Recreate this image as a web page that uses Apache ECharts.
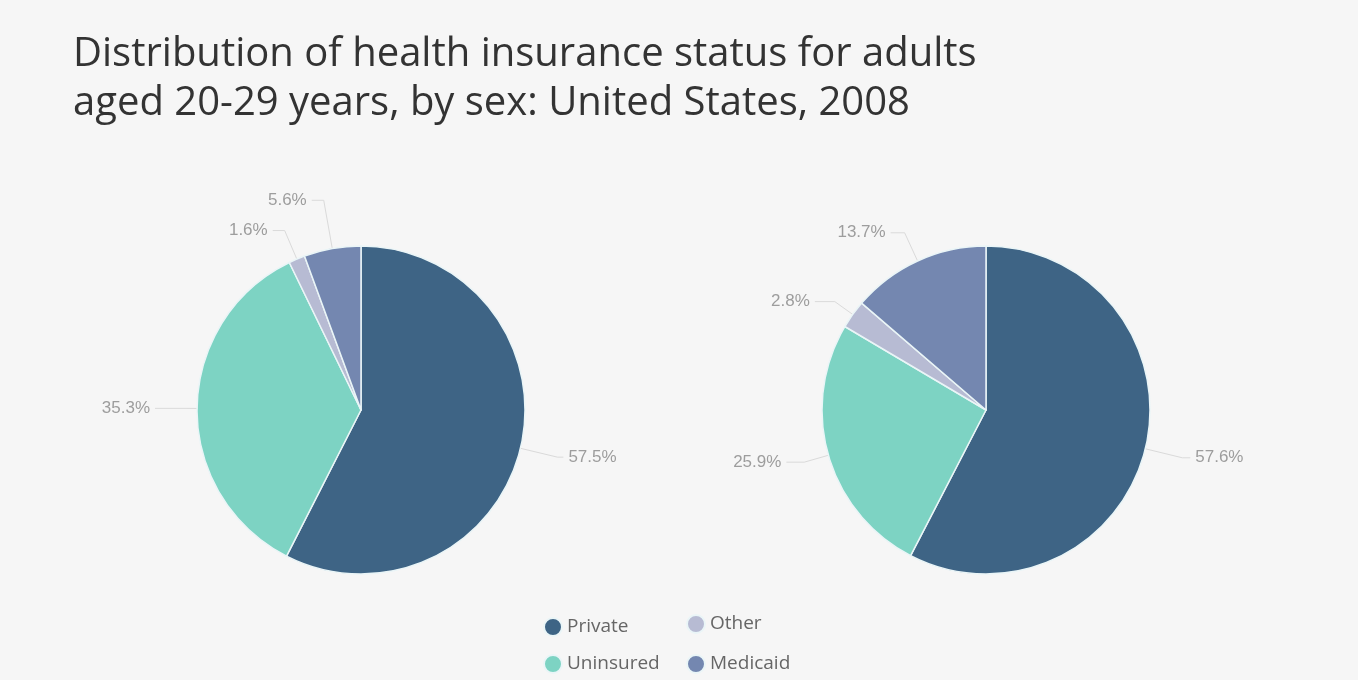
<!DOCTYPE html>
<html>
<head>
<meta charset="utf-8">
<script src="https://cdn.jsdelivr.net/npm/echarts@6/dist/echarts.min.js"></script>
<style>
  html, body { margin: 0; padding: 0; background: #f6f6f6; }
  #chart { width: 1358px; height: 680px; }
</style>
</head>
<body>
<div id="chart"></div>
<script>
// Health insurance status categories, in clockwise order from 12 o'clock
const categories = ['Private', 'Uninsured', 'Other', 'Medicaid'];
// Percent of adults aged 20-29 in each category
const leftValues = [57.5, 35.3, 1.6, 5.6];
const rightValues = [57.6, 25.9, 2.8, 13.7];
const colors = ['#3e6485', '#7dd3c3', '#b7bbd3', '#7487b0'];

const titleText = 'Distribution of health insurance status for adults\naged 20-29 years, by sex: United States, 2008';

// Leader line lengths [radial, horizontal] per slice so labels sit clear of each other
const leftLines = [[38, 6], [10, 32], [31, 12], [49, 12]];
const rightLines = [[38, 8], [25, 18], [22, 20], [31, 14]];

function pieSeries(name, values, lines, cx) {
  return {
    type: 'pie',
    name: name,
    center: [cx, 410],
    radius: 164,
    startAngle: 90,
    clockwise: true,
    avoidLabelOverlap: false,
    animation: false,
    itemStyle: { borderColor: '#eaf5f7', borderWidth: 1.5 },
    label: {
      show: true,
      formatter: p => p.value.toFixed(1) + '%',
      color: '#9d9d9d',
      fontSize: 17,
      fontFamily: 'Liberation Sans, Arial, sans-serif'
    },
    labelLine: {
      show: true,
      lineStyle: { color: '#dadada', width: 1 }
    },
    emphasis: { disabled: true },
    data: categories.map((c, i) => ({
      name: c,
      value: values[i],
      labelLine: { length: lines[i][0], length2: lines[i][1] }
    }))
  };
}

const legendText = { color: '#666', fontSize: 19, fontFamily: 'Open Sans, sans-serif' };

function legendColumn(names, left, top, gap) {
  return {
    data: names,
    orient: 'vertical',
    left: left,
    top: top,
    height: 120,
    padding: 0,
    itemGap: gap,
    icon: 'circle',
    itemWidth: 18,
    itemHeight: 18,
    textStyle: legendText,
    selectedMode: false
  };
}

const chart = echarts.init(document.getElementById('chart'));
chart.setOption({
  backgroundColor: '#f6f6f6',
  color: colors,
  title: {
    text: titleText,
    left: 68,
    top: 25,
    textStyle: {
      fontFamily: 'Open Sans, sans-serif',
      fontSize: 40,
      fontWeight: 500,
      color: '#333333',
      lineHeight: 49
    }
  },
  legend: [
    legendColumn(['Private', 'Uninsured'], 543, 617, 17),
    legendColumn(['Other', 'Medicaid'], 686, 614, 20)
  ],
  series: [
    pieSeries('Male', leftValues, leftLines, 361),
    pieSeries('Female', rightValues, rightLines, 986)
  ]
});
</script>
</body>
</html>
